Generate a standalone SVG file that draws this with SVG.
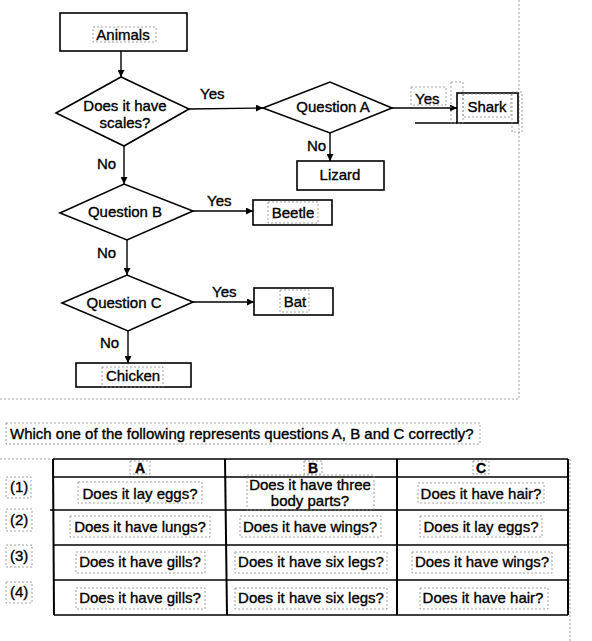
<svg xmlns="http://www.w3.org/2000/svg" width="592" height="641" viewBox="0 0 592 641">
<defs>
<marker id="arr" viewBox="0 0 10 10" refX="10" refY="5" markerWidth="8" markerHeight="7" markerUnits="userSpaceOnUse" orient="auto">
<path d="M0,0 L10,5 L0,10 Z" fill="#000"/>
</marker>
</defs>
<style>
text{font-family:"Liberation Sans",Arial,sans-serif;font-size:15px;fill:#000;stroke:#000;stroke-width:0.35}
.c{text-anchor:middle}
.b{font-weight:bold;font-size:14px}
.box{fill:#fff;stroke:#000;stroke-width:1.6}
.ln{fill:none;stroke:#000;stroke-width:1.4}
.arrow{fill:none;stroke:#000;stroke-width:1.4;marker-end:url(#arr)}
.tb{fill:none;stroke:#000;stroke-width:1.6}
.tv{fill:none;stroke:#000;stroke-width:2}
.ocr{fill:none;stroke:#8a8a8a;stroke-width:0.8;stroke-dasharray:2 2}
</style>
<rect width="592" height="641" fill="#fff"/>

<g id="frame">
<line class="ocr" x1="519" y1="0" x2="519" y2="399"/>
<line class="ocr" x1="0" y1="399" x2="519" y2="399"/>
<line class="ocr" x1="0" y1="459" x2="53" y2="459"/>
<line class="ocr" x1="570" y1="459" x2="570" y2="641"/>
</g>

<g id="connectors">
<line class="arrow" x1="121" y1="51" x2="121" y2="77"/>
<line class="arrow" x1="189" y1="109" x2="263" y2="108"/>
<line class="arrow" x1="392" y1="108" x2="457" y2="108"/>
<line class="ln" x1="415" y1="123" x2="457" y2="123"/>
<line class="arrow" x1="330" y1="133" x2="330" y2="161"/>
<line class="arrow" x1="124" y1="146" x2="124" y2="184"/>
<line class="arrow" x1="193" y1="211" x2="253" y2="211"/>
<line class="arrow" x1="127" y1="240" x2="127" y2="275"/>
<line class="arrow" x1="193" y1="302" x2="254" y2="302"/>
<line class="arrow" x1="128" y1="331" x2="128" y2="363"/>
<text x="200" y="99">Yes</text>
<rect class="ocr" x="411" y="87" width="35" height="18"/>
<text x="415" y="104">Yes</text>
<text x="307" y="151">No</text>
<text x="97" y="169">No</text>
<text x="207" y="206">Yes</text>
<text x="97" y="258">No</text>
<text x="212" y="297">Yes</text>
<text x="100" y="348">No</text>
</g>

<g id="animals">
<rect class="box" x="60" y="13" width="127" height="38"/>
<rect class="ocr" x="93" y="27" width="63" height="15"/>
<text class="c" x="123" y="40">Animals</text>
</g>
<g id="scales">
<polygon class="box" points="56,113 121,77 189,109 124,146"/>
<text class="c" x="125" y="111">Does it have</text>
<text class="c" x="125" y="128">scales?</text>
</g>
<g id="questionA">
<polygon class="box" points="263,108 330,82 392,108 330,133"/>
<text class="c" x="333" y="112">Question A</text>
</g>
<g id="shark">
<rect class="box" x="457" y="93" width="61" height="30"/>
<rect class="ocr" x="451" y="82" width="12" height="41"/>
<rect class="ocr" x="512" y="92" width="10" height="40"/>
<rect class="ocr" x="463" y="94" width="48" height="23"/>
<text class="c" x="487" y="112">Shark</text>
</g>
<g id="lizard">
<rect class="box" x="297" y="161" width="87" height="29"/>
<text class="c" x="340" y="180">Lizard</text>
</g>
<g id="questionB">
<polygon class="box" points="60,213 124,184 193,211 127,240"/>
<text class="c" x="125" y="217">Question B</text>
</g>
<g id="beetle">
<rect class="box" x="253" y="200" width="79" height="25"/>
<rect class="ocr" x="268" y="202" width="50" height="21"/>
<text class="c" x="293" y="218">Beetle</text>
</g>
<g id="questionC">
<polygon class="box" points="62,303 127,275 193,302 128,331"/>
<text class="c" x="124" y="308">Question C</text>
</g>
<g id="bat">
<rect class="box" x="254" y="288" width="79" height="27"/>
<rect class="ocr" x="280" y="290" width="29" height="22"/>
<text class="c" x="295" y="307">Bat</text>
</g>
<g id="chicken">
<rect class="box" x="76" y="363" width="115" height="24"/>
<rect class="ocr" x="102" y="367" width="61" height="20"/>
<text class="c" x="133" y="381">Chicken</text>
</g>

<g id="question">
<rect class="ocr" x="6" y="423" width="474" height="21"/>
<text x="10" y="439">Which one of the following represents questions A, B and C correctly?</text>
</g>

<g id="table">
<line class="tb" x1="53" y1="459" x2="568" y2="459"/>
<line class="tb" x1="53" y1="477" x2="568" y2="477"/>
<line class="tb" x1="50" y1="510" x2="568" y2="510"/>
<line class="tb" x1="53" y1="545" x2="568" y2="545"/>
<line class="tb" x1="53" y1="580" x2="568" y2="580"/>
<line class="tb" x1="54" y1="615" x2="568" y2="615"/>
<line class="tv" x1="53" y1="459" x2="54" y2="615"/>
<line class="tv" x1="225" y1="459" x2="227" y2="615"/>
<line class="tv" x1="397" y1="459" x2="397" y2="615"/>
<line class="tv" x1="568" y1="459" x2="568" y2="615"/>

<rect class="ocr" x="130" y="461" width="20" height="13"/>
<rect class="ocr" x="304" y="461" width="18" height="13"/>
<rect class="ocr" x="473" y="461" width="16" height="13"/>
<text class="c b" x="140" y="473">A</text>
<text class="c b" x="313" y="473">B</text>
<text class="c b" x="481" y="473">C</text>

<rect class="ocr" x="6" y="477" width="25" height="21"/>
<rect class="ocr" x="6" y="509" width="26" height="22"/>
<rect class="ocr" x="6" y="545" width="26" height="22"/>
<rect class="ocr" x="6" y="582" width="26" height="21"/>
<text x="10" y="492">(1)</text>
<text x="10" y="525">(2)</text>
<text x="10" y="561">(3)</text>
<text x="10" y="597">(4)</text>

<rect class="ocr" x="78" y="482" width="124" height="21"/>
<rect class="ocr" x="247" y="475" width="127" height="35"/>
<rect class="ocr" x="418" y="483" width="126" height="20"/>
<text class="c" x="140" y="499">Does it lay eggs?</text>
<text class="c" x="310" y="490">Does it have three</text>
<text class="c" x="310" y="506">body parts?</text>
<text class="c" x="481" y="499">Does it have hair?</text>

<rect class="ocr" x="70" y="516" width="140" height="21"/>
<rect class="ocr" x="240" y="516" width="141" height="21"/>
<rect class="ocr" x="420" y="516" width="122" height="21"/>
<text class="c" x="140" y="532">Does it have lungs?</text>
<text class="c" x="310" y="532">Does it have wings?</text>
<text class="c" x="481" y="532">Does it lay eggs?</text>

<rect class="ocr" x="76" y="552" width="129" height="21"/>
<rect class="ocr" x="235" y="552" width="152" height="21"/>
<rect class="ocr" x="412" y="552" width="140" height="21"/>
<text class="c" x="140" y="567">Does it have gills?</text>
<text class="c" x="311" y="567">Does it have six legs?</text>
<text class="c" x="482" y="567">Does it have wings?</text>

<rect class="ocr" x="76" y="588" width="129" height="21"/>
<rect class="ocr" x="235" y="588" width="152" height="21"/>
<rect class="ocr" x="420" y="588" width="128" height="21"/>
<text class="c" x="140" y="603">Does it have gills?</text>
<text class="c" x="311" y="603">Does it have six legs?</text>
<text class="c" x="483" y="603">Does it have hair?</text>
</g>
</svg>
